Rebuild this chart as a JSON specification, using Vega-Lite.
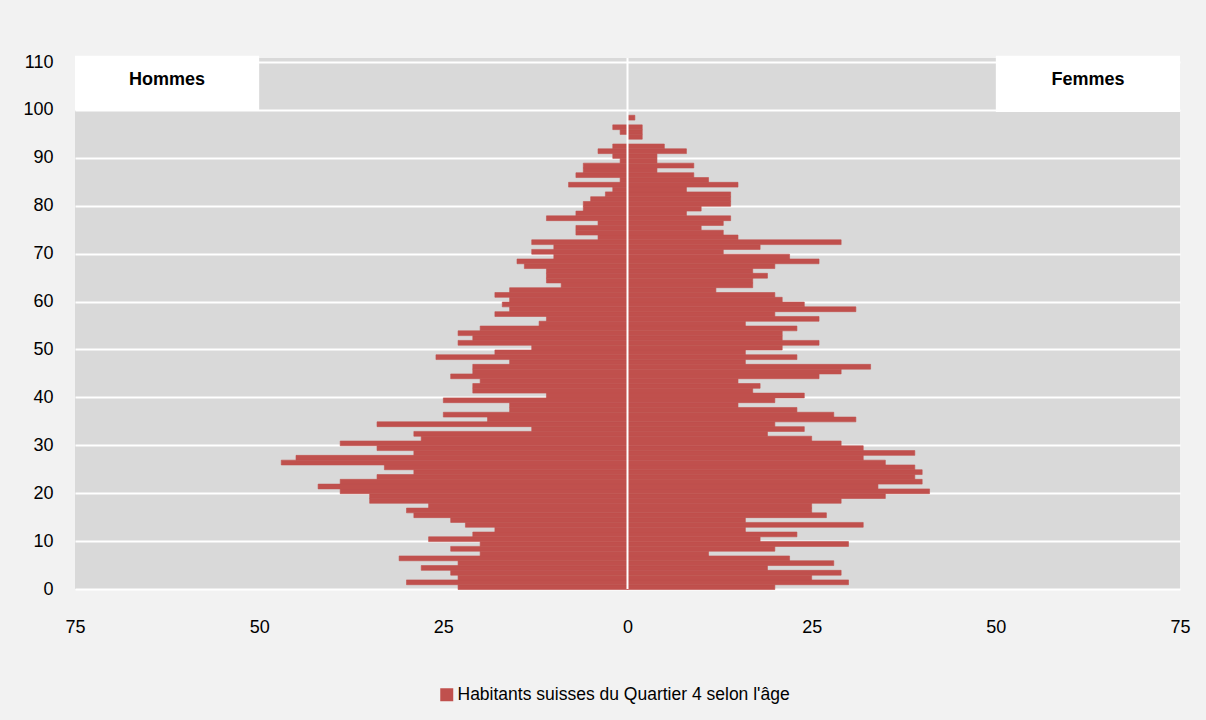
{
  "$schema": "https://vega.github.io/schema/vega-lite/v6.json",
  "width": 1105,
  "height": 531,
  "autosize": {"type": "none"},
  "padding": {"left": 75, "top": 58, "right": 26, "bottom": 131},
  "background": "#f2f2f2",
  "config": {
    "font": "Liberation Sans, Arial, sans-serif",
    "view": {"fill": "#d9d9d9", "stroke": null},
    "axis": {
      "grid": true, "gridColor": "#ffffff", "gridWidth": 2, "gridOpacity": 1,
      "domain": false, "ticks": false, "tickSize": 0,
      "labelFontSize": 18, "labelColor": "#000000", "title": null,
      "labelFlush": false, "labelOverlap": false
    }
  },
  "datasets": {
    "pop": [
      {"age":0,"sexe":"Hommes","n":23},{"age":1,"sexe":"Hommes","n":30},{"age":2,"sexe":"Hommes","n":23},{"age":3,"sexe":"Hommes","n":24},{"age":4,"sexe":"Hommes","n":28},
      {"age":5,"sexe":"Hommes","n":23},{"age":6,"sexe":"Hommes","n":31},{"age":7,"sexe":"Hommes","n":20},{"age":8,"sexe":"Hommes","n":24},{"age":9,"sexe":"Hommes","n":20},
      {"age":10,"sexe":"Hommes","n":27},{"age":11,"sexe":"Hommes","n":21},{"age":12,"sexe":"Hommes","n":18},{"age":13,"sexe":"Hommes","n":22},{"age":14,"sexe":"Hommes","n":24},
      {"age":15,"sexe":"Hommes","n":29},{"age":16,"sexe":"Hommes","n":30},{"age":17,"sexe":"Hommes","n":27},{"age":18,"sexe":"Hommes","n":35},{"age":19,"sexe":"Hommes","n":35},
      {"age":20,"sexe":"Hommes","n":39},{"age":21,"sexe":"Hommes","n":42},{"age":22,"sexe":"Hommes","n":39},{"age":23,"sexe":"Hommes","n":34},{"age":24,"sexe":"Hommes","n":29},
      {"age":25,"sexe":"Hommes","n":33},{"age":26,"sexe":"Hommes","n":47},{"age":27,"sexe":"Hommes","n":45},{"age":28,"sexe":"Hommes","n":29},{"age":29,"sexe":"Hommes","n":34},
      {"age":30,"sexe":"Hommes","n":39},{"age":31,"sexe":"Hommes","n":28},{"age":32,"sexe":"Hommes","n":29},{"age":33,"sexe":"Hommes","n":13},{"age":34,"sexe":"Hommes","n":34},
      {"age":35,"sexe":"Hommes","n":19},{"age":36,"sexe":"Hommes","n":25},{"age":37,"sexe":"Hommes","n":16},{"age":38,"sexe":"Hommes","n":16},{"age":39,"sexe":"Hommes","n":25},
      {"age":40,"sexe":"Hommes","n":11},{"age":41,"sexe":"Hommes","n":21},{"age":42,"sexe":"Hommes","n":21},{"age":43,"sexe":"Hommes","n":20},{"age":44,"sexe":"Hommes","n":24},
      {"age":45,"sexe":"Hommes","n":21},{"age":46,"sexe":"Hommes","n":21},{"age":47,"sexe":"Hommes","n":16},{"age":48,"sexe":"Hommes","n":26},{"age":49,"sexe":"Hommes","n":18},
      {"age":50,"sexe":"Hommes","n":13},{"age":51,"sexe":"Hommes","n":23},{"age":52,"sexe":"Hommes","n":21},{"age":53,"sexe":"Hommes","n":23},{"age":54,"sexe":"Hommes","n":20},
      {"age":55,"sexe":"Hommes","n":12},{"age":56,"sexe":"Hommes","n":11},{"age":57,"sexe":"Hommes","n":18},{"age":58,"sexe":"Hommes","n":16},{"age":59,"sexe":"Hommes","n":17},
      {"age":60,"sexe":"Hommes","n":16},{"age":61,"sexe":"Hommes","n":18},{"age":62,"sexe":"Hommes","n":16},{"age":63,"sexe":"Hommes","n":9},{"age":64,"sexe":"Hommes","n":11},
      {"age":65,"sexe":"Hommes","n":11},{"age":66,"sexe":"Hommes","n":11},{"age":67,"sexe":"Hommes","n":14},{"age":68,"sexe":"Hommes","n":15},{"age":69,"sexe":"Hommes","n":10},
      {"age":70,"sexe":"Hommes","n":13},{"age":71,"sexe":"Hommes","n":10},{"age":72,"sexe":"Hommes","n":13},{"age":73,"sexe":"Hommes","n":4},{"age":74,"sexe":"Hommes","n":7},
      {"age":75,"sexe":"Hommes","n":7},{"age":76,"sexe":"Hommes","n":4},{"age":77,"sexe":"Hommes","n":11},{"age":78,"sexe":"Hommes","n":7},{"age":79,"sexe":"Hommes","n":6},
      {"age":80,"sexe":"Hommes","n":6},{"age":81,"sexe":"Hommes","n":5},{"age":82,"sexe":"Hommes","n":3},{"age":83,"sexe":"Hommes","n":2},{"age":84,"sexe":"Hommes","n":8},
      {"age":85,"sexe":"Hommes","n":1},{"age":86,"sexe":"Hommes","n":7},{"age":87,"sexe":"Hommes","n":6},{"age":88,"sexe":"Hommes","n":6},{"age":89,"sexe":"Hommes","n":1},
      {"age":90,"sexe":"Hommes","n":2},{"age":91,"sexe":"Hommes","n":4},{"age":92,"sexe":"Hommes","n":2},{"age":93,"sexe":"Hommes","n":0},{"age":94,"sexe":"Hommes","n":0},
      {"age":95,"sexe":"Hommes","n":1},{"age":96,"sexe":"Hommes","n":2},{"age":97,"sexe":"Hommes","n":0},{"age":98,"sexe":"Hommes","n":0},
      {"age":0,"sexe":"Femmes","n":20},{"age":1,"sexe":"Femmes","n":30},{"age":2,"sexe":"Femmes","n":25},{"age":3,"sexe":"Femmes","n":29},{"age":4,"sexe":"Femmes","n":19},
      {"age":5,"sexe":"Femmes","n":28},{"age":6,"sexe":"Femmes","n":22},{"age":7,"sexe":"Femmes","n":11},{"age":8,"sexe":"Femmes","n":20},{"age":9,"sexe":"Femmes","n":30},
      {"age":10,"sexe":"Femmes","n":18},{"age":11,"sexe":"Femmes","n":23},{"age":12,"sexe":"Femmes","n":16},{"age":13,"sexe":"Femmes","n":32},{"age":14,"sexe":"Femmes","n":16},
      {"age":15,"sexe":"Femmes","n":27},{"age":16,"sexe":"Femmes","n":25},{"age":17,"sexe":"Femmes","n":25},{"age":18,"sexe":"Femmes","n":29},{"age":19,"sexe":"Femmes","n":35},
      {"age":20,"sexe":"Femmes","n":41},{"age":21,"sexe":"Femmes","n":34},{"age":22,"sexe":"Femmes","n":40},{"age":23,"sexe":"Femmes","n":39},{"age":24,"sexe":"Femmes","n":40},
      {"age":25,"sexe":"Femmes","n":39},{"age":26,"sexe":"Femmes","n":35},{"age":27,"sexe":"Femmes","n":32},{"age":28,"sexe":"Femmes","n":39},{"age":29,"sexe":"Femmes","n":32},
      {"age":30,"sexe":"Femmes","n":29},{"age":31,"sexe":"Femmes","n":25},{"age":32,"sexe":"Femmes","n":19},{"age":33,"sexe":"Femmes","n":24},{"age":34,"sexe":"Femmes","n":20},
      {"age":35,"sexe":"Femmes","n":31},{"age":36,"sexe":"Femmes","n":28},{"age":37,"sexe":"Femmes","n":23},{"age":38,"sexe":"Femmes","n":15},{"age":39,"sexe":"Femmes","n":20},
      {"age":40,"sexe":"Femmes","n":24},{"age":41,"sexe":"Femmes","n":17},{"age":42,"sexe":"Femmes","n":18},{"age":43,"sexe":"Femmes","n":15},{"age":44,"sexe":"Femmes","n":26},
      {"age":45,"sexe":"Femmes","n":29},{"age":46,"sexe":"Femmes","n":33},{"age":47,"sexe":"Femmes","n":16},{"age":48,"sexe":"Femmes","n":23},{"age":49,"sexe":"Femmes","n":16},
      {"age":50,"sexe":"Femmes","n":21},{"age":51,"sexe":"Femmes","n":26},{"age":52,"sexe":"Femmes","n":21},{"age":53,"sexe":"Femmes","n":21},{"age":54,"sexe":"Femmes","n":23},
      {"age":55,"sexe":"Femmes","n":16},{"age":56,"sexe":"Femmes","n":26},{"age":57,"sexe":"Femmes","n":20},{"age":58,"sexe":"Femmes","n":31},{"age":59,"sexe":"Femmes","n":24},
      {"age":60,"sexe":"Femmes","n":21},{"age":61,"sexe":"Femmes","n":20},{"age":62,"sexe":"Femmes","n":12},{"age":63,"sexe":"Femmes","n":17},{"age":64,"sexe":"Femmes","n":17},
      {"age":65,"sexe":"Femmes","n":19},{"age":66,"sexe":"Femmes","n":17},{"age":67,"sexe":"Femmes","n":20},{"age":68,"sexe":"Femmes","n":26},{"age":69,"sexe":"Femmes","n":22},
      {"age":70,"sexe":"Femmes","n":13},{"age":71,"sexe":"Femmes","n":18},{"age":72,"sexe":"Femmes","n":29},{"age":73,"sexe":"Femmes","n":15},{"age":74,"sexe":"Femmes","n":13},
      {"age":75,"sexe":"Femmes","n":10},{"age":76,"sexe":"Femmes","n":13},{"age":77,"sexe":"Femmes","n":14},{"age":78,"sexe":"Femmes","n":8},{"age":79,"sexe":"Femmes","n":10},
      {"age":80,"sexe":"Femmes","n":14},{"age":81,"sexe":"Femmes","n":14},{"age":82,"sexe":"Femmes","n":14},{"age":83,"sexe":"Femmes","n":8},{"age":84,"sexe":"Femmes","n":15},
      {"age":85,"sexe":"Femmes","n":11},{"age":86,"sexe":"Femmes","n":9},{"age":87,"sexe":"Femmes","n":4},{"age":88,"sexe":"Femmes","n":9},{"age":89,"sexe":"Femmes","n":4},
      {"age":90,"sexe":"Femmes","n":4},{"age":91,"sexe":"Femmes","n":8},{"age":92,"sexe":"Femmes","n":5},{"age":93,"sexe":"Femmes","n":0},{"age":94,"sexe":"Femmes","n":2},
      {"age":95,"sexe":"Femmes","n":2},{"age":96,"sexe":"Femmes","n":2},{"age":97,"sexe":"Femmes","n":0},{"age":98,"sexe":"Femmes","n":1}
    ]
  },
  "resolve": {"scale": {"x": "independent"}, "axis": {"x": "independent"}},
  "layer": [
    {
      "data": {"name": "pop"},
      "transform": [{"filter": "datum.sexe === 'Hommes' && datum.n > 0"}],
      "mark": {"type": "bar", "binSpacing": 0, "stroke": "#c0504d", "strokeWidth": 0.6},
      "encoding": {
        "x": {"field": "n", "type": "quantitative", "scale": {"domain": [-75, 75], "reverse": true, "nice": false}, "axis": null},
        "y": {"field": "age", "type": "quantitative", "bin": {"binned": true, "step": 1},
              "scale": {"domain": [0, 110.85], "nice": false, "zero": false},
              "axis": {"values": [0,10,20,30,40,50,60,70,80,90,100,110], "labelPadding": 22, "format": "d"}},
        "color": {"datum": "Habitants suisses du Quartier 4 selon l'âge", "type": "nominal",
                  "scale": {"range": ["#c0504d"]},
                  "legend": {"title": null, "orient": "none", "legendX": 363, "legendY": 628, "symbolType": "square", "symbolSize": 169, "symbolStrokeWidth": 0, "labelFontSize": 17.5, "labelOffset": 2, "padding": 0, "labelLimit": 1000, "labelColor": "#000000"}}
      }
    },
    {
      "data": {"name": "pop"},
      "transform": [{"filter": "datum.sexe === 'Femmes' && datum.n > 0"}],
      "mark": {"type": "bar", "binSpacing": 0, "stroke": "#c0504d", "strokeWidth": 0.6},
      "encoding": {
        "x": {"field": "n", "type": "quantitative", "scale": {"domain": [-75, 75], "nice": false},
              "axis": {"values": [-75, -50, -25, 0, 25, 50, 75], "labelExpr": "'' + abs(datum.value)", "labelPadding": 29}},
        "y": {"field": "age", "type": "quantitative", "bin": {"binned": true, "step": 1}},
        "color": {"datum": "Habitants suisses du Quartier 4 selon l'âge", "type": "nominal"}
      }
    },
    {
      "data": {"values": [{}]},
      "mark": {"type": "rule", "color": "#ffffff", "strokeWidth": 2},
      "encoding": {
        "x": {"datum": 0, "type": "quantitative", "scale": {"domain": [-75, 75], "nice": false}, "axis": null}
      }
    },
    {
      "data": {"values": [{}]},
      "mark": {"type": "rect", "fill": "#ffffff"},
      "encoding": {
        "x": {"datum": -75, "type": "quantitative", "scale": {"domain": [-75, 75], "nice": false}, "axis": null},
        "x2": {"datum": -50},
        "y": {"datum": 99.9, "type": "quantitative"},
        "y2": {"datum": 111.3}
      }
    },
    {
      "data": {"values": [{}]},
      "mark": {"type": "rect", "fill": "#ffffff"},
      "encoding": {
        "x": {"datum": 50, "type": "quantitative", "scale": {"domain": [-75, 75], "nice": false}, "axis": null},
        "x2": {"datum": 75},
        "y": {"datum": 99.6, "type": "quantitative"},
        "y2": {"datum": 111.3}
      }
    },
    {
      "data": {"values": [{}]},
      "mark": {"type": "text", "text": "Hommes", "fontWeight": "bold", "fontSize": 18, "color": "#000000"},
      "encoding": {
        "x": {"datum": -62.5, "type": "quantitative", "scale": {"domain": [-75, 75], "nice": false}, "axis": null},
        "y": {"datum": 106.3, "type": "quantitative"}
      }
    },
    {
      "data": {"values": [{}]},
      "mark": {"type": "text", "text": "Femmes", "fontWeight": "bold", "fontSize": 18, "color": "#000000"},
      "encoding": {
        "x": {"datum": 62.5, "type": "quantitative", "scale": {"domain": [-75, 75], "nice": false}, "axis": null},
        "y": {"datum": 106.2, "type": "quantitative"}
      }
    }
  ]
}
